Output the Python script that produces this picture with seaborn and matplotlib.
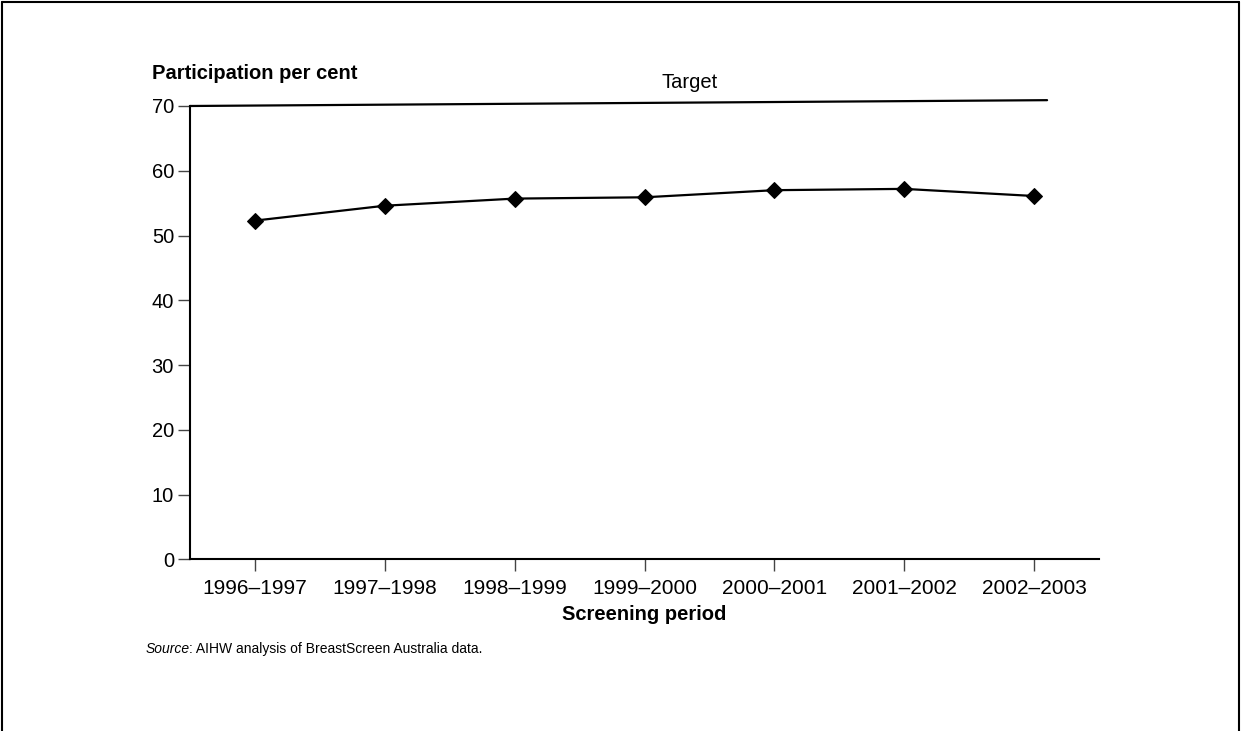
import matplotlib
matplotlib.use("Agg")
import matplotlib.pyplot as plt
import seaborn as sns
from matplotlib.lines import Line2D

# data
periods = ["1996–1997", "1997–1998", "1998–1999", "1999–2000",
           "2000–2001", "2001–2002", "2002–2003"]
participation = [52.3, 54.6, 55.7, 55.9, 57.0, 57.2, 56.1]
target_span = [-0.5, 6.1]
target_values = [70.0, 70.9]

sns.set_theme(style="white")
plt.rcParams["font.family"] = ["Liberation Sans", "DejaVu Sans"]
plt.rcParams["text.color"] = "black"
plt.rcParams["axes.labelcolor"] = "black"

fig = plt.figure(figsize=(12.41, 7.31), dpi=100)
ax = fig.add_axes([0.1531, 0.2349, 0.7325, 0.6201])

x = list(range(len(periods)))
sns.lineplot(x=x, y=participation, ax=ax, color="black", linewidth=1.6,
             marker="D", markersize=8, markeredgecolor="black")

# target line (sits on the top edge of the axes)
sns.lineplot(x=target_span, y=target_values, ax=ax, color="black",
             linewidth=1.6, clip_on=False)
ax.text(3.35, 73.6, "Target", ha="center", va="center", fontsize=14.5)

ax.set_xlim(-0.5, 6.5)
ax.set_ylim(0, 70)
ax.set_yticks(range(0, 71, 10))
ax.set_xticks(x)
ax.set_xticklabels(periods)

ax.spines["top"].set_visible(False)
ax.spines["right"].set_visible(False)
for s in ["left", "bottom"]:
    ax.spines[s].set_linewidth(1.5)
    ax.spines[s].set_color("black")

ax.tick_params(axis="both", which="major", direction="out", length=8.5,
               width=1.0, color="#444444", labelsize=14.5, pad=3,
               bottom=True, left=True, labelcolor="black")
ax.tick_params(axis="x", pad=6, labelsize=15)

ax.set_xlabel("Screening period", fontsize=14.5, fontweight="bold", labelpad=5)
ax.set_ylabel("")
fig.text(0.1225, 0.899, "Participation per cent", fontsize=14.5,
         fontweight="bold", va="center", ha="left")

# source note: italic "Source" then the rest right after it
src = fig.text(0.117, 0.112, "Source", fontsize=10, style="italic", va="center")
ax.annotate(": AIHW analysis of BreastScreen Australia data.",
            xy=(1, 0.5), xycoords=src, va="center", ha="left",
            fontsize=10, annotation_clip=False)

# frame around the figure (no bottom edge visible in reference)
for xs, ys in [([0.002, 0.002], [0.0, 0.997]),
               ([0.002, 0.998], [0.997, 0.997]),
               ([0.998, 0.998], [0.0, 0.997])]:
    fig.add_artist(Line2D(xs, ys, color="black", linewidth=1.5,
                          transform=fig.transFigure))

fig.savefig("out.png", dpi=100)
